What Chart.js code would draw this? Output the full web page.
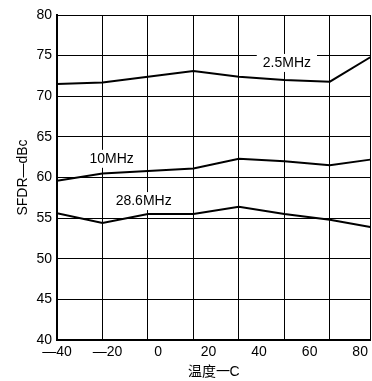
<!DOCTYPE html>
<html lang="zh-CN">
<head>
    <meta charset="UTF-8">
    <title>SFDR vs 温度</title>
    <script src="https://cdn.jsdelivr.net/npm/chart.js"></script>
    <style>
        html, body { margin: 0; padding: 0; background: #fff; }
        #wrap { width: 372px; height: 381px; }
    </style>
</head>
<body>
<div id="wrap"><canvas id="sfdrChart" width="372" height="381"></canvas></div>
<script>
    // Temperatures where the curves have their points (they sit on the grid lines)
    const tempPoints = [-40, -22, -4, 14, 32, 50, 68, 84];
    // Vertical grid lines of the original figure
    const gridTemps = [-40, -22, -4, 14, 32, 50, 68, 84];
    // Printed x labels
    const xTickLabels = [-40, -20, 0, 20, 40, 60, 80];
    const yTickLabels = [40, 45, 50, 55, 60, 65, 70, 75, 80];

    // SFDR values (dBc)
    const sfdr2p5 = [71.5, 71.7, 72.4, 73.1, 72.4, 72.0, 71.8, 74.8];
    const sfdr10 = [59.6, 60.5, 60.8, 61.1, 62.3, 62.0, 61.5, 62.2];
    const sfdr28p6 = [55.6, 54.4, 55.5, 55.5, 56.4, 55.5, 54.8, 53.9];

    // Curve names and where their labels sit (temperature, dBc)
    const seriesNames = ['2.5MHz', '10MHz', '28.6MHz'];
    const labelTemps = [51, -18.4, -5.7];
    const labelValues = [74.1, 62.3, 57.1];

    const font = { family: '"Liberation Sans", Arial, sans-serif', size: 14 };

    const toPoints = vals => vals.map((v, i) => ({ x: tempPoints[i], y: v }));

    // Draws the curve names, with white behind them so the grid is broken
    const curveLabels = {
        id: 'curveLabels',
        afterDatasetsDraw(chart) {
            const ctx = chart.ctx;
            const xs = chart.scales.x, ys = chart.scales.y;
            ctx.save();
            ctx.font = font.size + 'px ' + font.family;
            ctx.textAlign = 'center';
            ctx.textBaseline = 'middle';
            seriesNames.forEach((name, i) => {
                const px = xs.getPixelForValue(labelTemps[i]);
                const py = ys.getPixelForValue(labelValues[i]);
                const w = ctx.measureText(name).width;
                ctx.fillStyle = '#fff';
                ctx.fillRect(px - w / 2 - 6, py - 9, w + 12, 18);
                ctx.fillStyle = '#000';
                ctx.fillText(name, px, py);
            });
            ctx.restore();
        }
    };

    const lineStyle = { borderColor: '#000', borderWidth: 2, pointRadius: 0, fill: false, tension: 0 };

    new Chart(document.getElementById('sfdrChart'), {
        type: 'line',
        data: {
            datasets: [
                { label: seriesNames[0], data: toPoints(sfdr2p5), ...lineStyle },
                { label: seriesNames[1], data: toPoints(sfdr10), ...lineStyle },
                { label: seriesNames[2], data: toPoints(sfdr28p6), ...lineStyle }
            ]
        },
        options: {
            responsive: false,
            animation: false,
            layout: { padding: { top: 15, right: 1, left: 0, bottom: 0 } },
            plugins: { legend: { display: false }, tooltip: { enabled: false } },
            scales: {
                // grid-only axis, no height
                x: {
                    type: 'linear',
                    position: 'bottom',
                    min: -40, max: 84,
                    afterBuildTicks: s => { s.ticks = gridTemps.map(v => ({ value: v })); },
                    afterFit: s => { s.height = 0; },
                    ticks: { display: false },
                    grid: { color: '#000', lineWidth: 1, drawTicks: false },
                    border: { display: true, color: '#000', width: 2 }
                },
                // labels-only axis
                xLabels: {
                    type: 'linear',
                    position: 'bottom',
                    min: -40, max: 84,
                    afterBuildTicks: s => { s.ticks = xTickLabels.map(v => ({ value: v })); },
                    afterFit: s => { s.height = 41; },
                    ticks: {
                        color: '#000', font: font, padding: 4, maxRotation: 0, autoSkip: false,
                        callback: v => v < 0 ? '—' + Math.abs(v) : String(v)
                    },
                    grid: { display: false, drawTicks: false },
                    border: { display: false },
                    title: { display: true, text: '温度一C', color: '#000', font: font, padding: { top: 0, bottom: 0 } }
                },
                y: {
                    min: 40, max: 80,
                    afterBuildTicks: s => { s.ticks = yTickLabels.map(v => ({ value: v })); },
                    afterFit: s => { s.width = 57; },
                    ticks: { color: '#000', font: font, padding: 5 },
                    grid: { color: '#000', lineWidth: 1, drawTicks: false },
                    border: { display: true, color: '#000', width: 2 },
                    title: { display: true, text: 'SFDR—dBc', color: '#000', font: font, padding: { top: 15, bottom: 0 } }
                }
            }
        },
        plugins: [curveLabels]
    });
</script>
</body>
</html>
